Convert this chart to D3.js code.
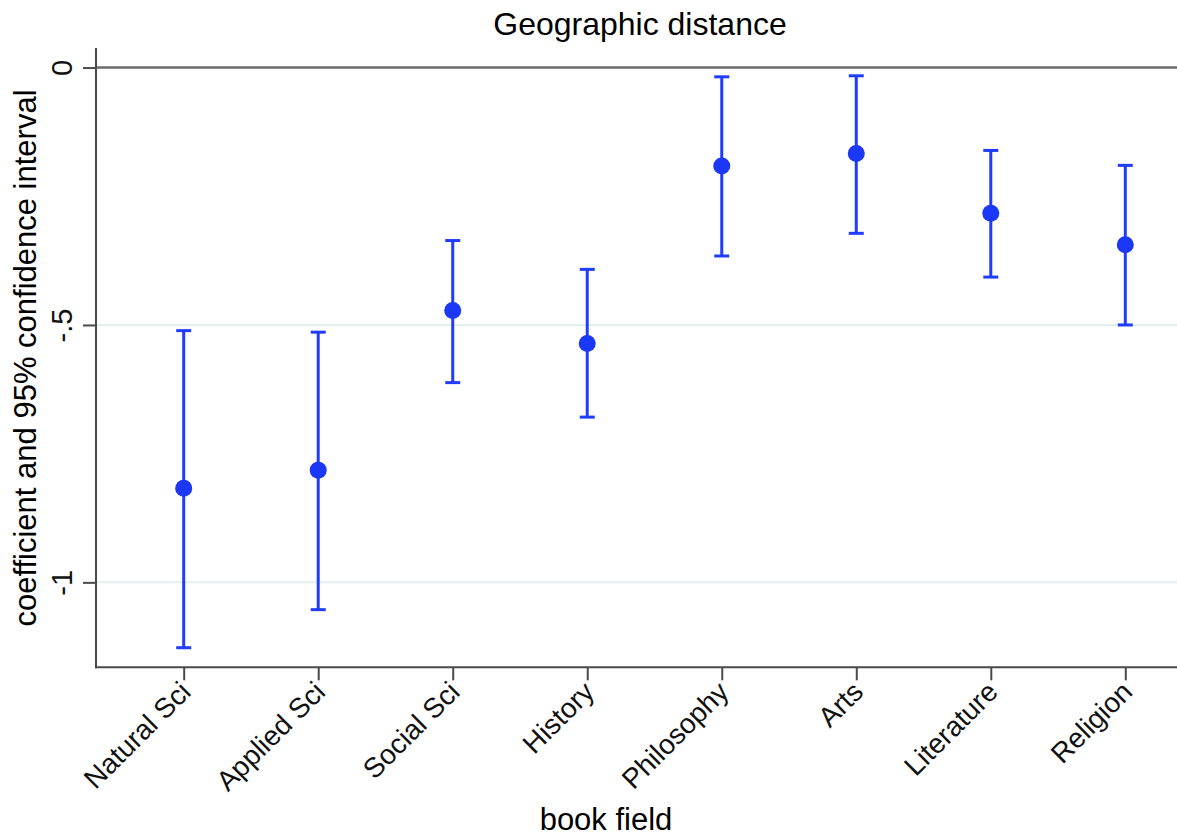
<!DOCTYPE html>
<html>
<head>
<meta charset="utf-8">
<script src="https://cdn.jsdelivr.net/npm/d3@7"></script>
<style>
  html, body { margin: 0; padding: 0; background: #fff; }
  svg { display: block; font-family: "Liberation Sans", Arial, Helvetica, sans-serif; }
</style>
</head>
<body>
<svg id="chart" width="1177" height="838"></svg>
<script>
const categories = ["Natural Sci", "Applied Sci", "Social Sci", "History", "Philosophy", "Arts", "Literature", "Religion"];
const coef  = [-0.817, -0.782, -0.472, -0.536, -0.191, -0.167, -0.283, -0.344];
const lower = [-1.127, -1.053, -0.612, -0.679, -0.366, -0.322, -0.407, -0.500];
const upper = [-0.511, -0.514, -0.336, -0.392, -0.018, -0.016, -0.161, -0.190];
const yTicks = [0, -0.5, -1];
const yTickLabels = ["0", "-.5", "-1"];
const titleText = "Geographic distance";
const xTitle = "book field";
const yTitle = "coefficient and 95% confidence interval";

const svg = d3.select("#chart");
const W = 1177, H = 838;
const plot = { left: 96, right: 1213, top: 48, bottom: 667.3 };

const x = d3.scalePoint().domain(categories).range([plot.left, plot.right]).padding(0.652);
const y = d3.scaleLinear().domain([-1.165, 0.038]).range([plot.bottom, plot.top]);

const blue = "#1f3cff";
const axisColor = "#4a4a4a";

// grid lines
svg.append("g").selectAll("line").data(yTicks.filter(d => d !== 0)).join("line")
  .attr("x1", plot.left).attr("x2", W)
  .attr("y1", d => y(d)).attr("y2", d => y(d))
  .attr("stroke", "#e6efef").attr("stroke-width", 2);

// zero reference line
svg.append("line")
  .attr("x1", plot.left).attr("x2", W)
  .attr("y1", y(0)).attr("y2", y(0))
  .attr("stroke", "#6a6a6a").attr("stroke-width", 2.5);

// y axis
const yAxis = d3.axisLeft(y).tickValues(yTicks).tickSize(13).tickFormat((d, i) => yTickLabels[i]);
const gy = svg.append("g").attr("transform", `translate(${plot.left},0)`).call(yAxis);
gy.select(".domain").remove();
gy.append("line").attr("x1", 0).attr("x2", 0).attr("y1", plot.top).attr("y2", plot.bottom + 1)
  .attr("stroke", axisColor).attr("stroke-width", 2);
gy.selectAll(".tick line").attr("stroke", axisColor).attr("stroke-width", 2);
gy.selectAll(".tick text")
  .attr("x", null).attr("dy", null)
  .attr("transform", "translate(-24,0) rotate(-90)")
  .attr("text-anchor", "middle")
  .attr("fill", "#111")
  .style("font-size", "29px");

// x axis
const xAxis = d3.axisBottom(x).tickSize(13);
const gx = svg.append("g").attr("transform", `translate(0,${plot.bottom})`).call(xAxis);
gx.select(".domain").remove();
gx.append("line").attr("x1", plot.left - 1).attr("x2", W).attr("y1", 0).attr("y2", 0)
  .attr("stroke", axisColor).attr("stroke-width", 2);
gx.selectAll(".tick line").attr("stroke", axisColor).attr("stroke-width", 2);
gx.selectAll(".tick text")
  .attr("y", null).attr("dy", null)
  .attr("transform", "translate(3,21) rotate(-45)")
  .attr("text-anchor", "end")
  .attr("dominant-baseline", "middle")
  .attr("fill", "#111")
  .style("font-size", "28px");

// error bars
const data = categories.map((c, i) => ({ c, m: coef[i], lo: lower[i], hi: upper[i] }));
const capW = 15;
const eb = svg.append("g");
eb.selectAll("line.v").data(data).join("line").attr("class", "v")
  .attr("x1", d => x(d.c)).attr("x2", d => x(d.c))
  .attr("y1", d => y(d.hi)).attr("y2", d => y(d.lo))
  .attr("stroke", blue).attr("stroke-width", 3);
eb.selectAll("line.ct").data(data).join("line").attr("class", "ct")
  .attr("x1", d => x(d.c) - capW / 2).attr("x2", d => x(d.c) + capW / 2)
  .attr("y1", d => y(d.hi)).attr("y2", d => y(d.hi))
  .attr("stroke", blue).attr("stroke-width", 3);
eb.selectAll("line.cb").data(data).join("line").attr("class", "cb")
  .attr("x1", d => x(d.c) - capW / 2).attr("x2", d => x(d.c) + capW / 2)
  .attr("y1", d => y(d.lo)).attr("y2", d => y(d.lo))
  .attr("stroke", blue).attr("stroke-width", 3);
eb.selectAll("circle").data(data).join("circle")
  .attr("cx", d => x(d.c)).attr("cy", d => y(d.m)).attr("r", 8.5)
  .attr("fill", "#1a38f5");

// titles
svg.append("text").attr("x", 640).attr("y", 35).attr("text-anchor", "middle")
  .style("font-size", "32px").attr("fill", "#000").text(titleText);
svg.append("text").attr("x", 606).attr("y", 830).attr("text-anchor", "middle")
  .style("font-size", "31px").attr("fill", "#000").text(xTitle);
svg.append("text").attr("transform", "translate(36,358) rotate(-90)").attr("text-anchor", "middle")
  .style("font-size", "31px").attr("fill", "#000").text(yTitle);
</script>
</body>
</html>
